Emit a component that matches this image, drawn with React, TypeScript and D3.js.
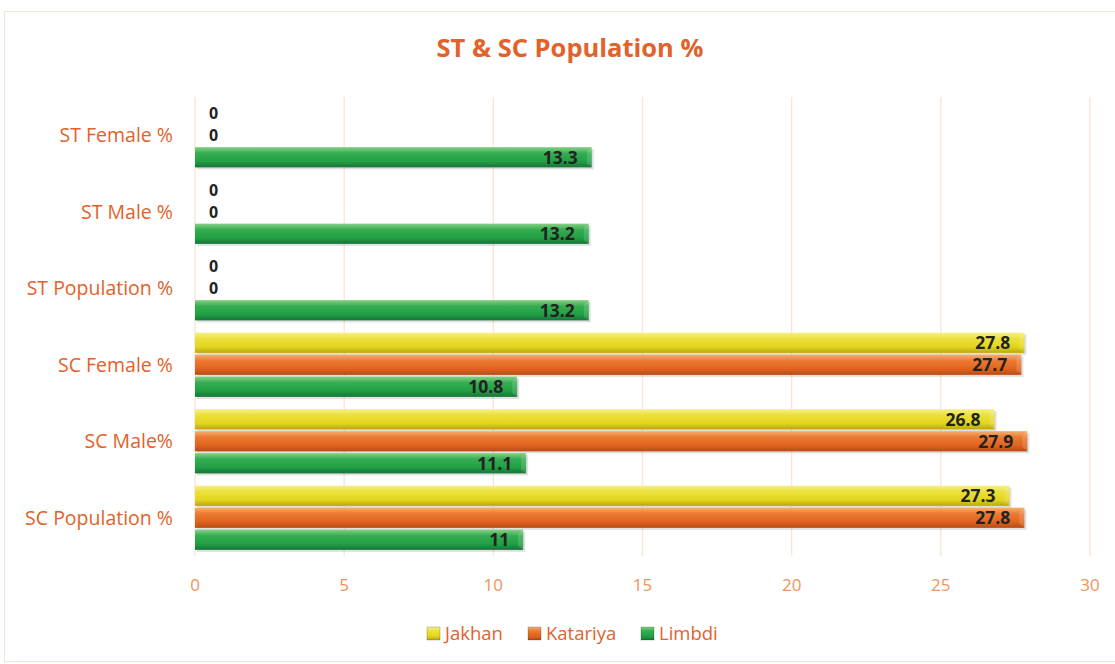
import * as d3 from "d3";
import { useEffect, useRef } from "react";

const categories = [
  "SC Population %",
  "SC Male%",
  "SC Female %",
  "ST Population %",
  "ST Male %",
  "ST Female %",
];
const seriesNames = ["Jakhan", "Katariya", "Limbdi"];
const jakhan = [27.3, 26.8, 27.8, 0, 0, 0];
const katariya = [27.8, 27.9, 27.7, 0, 0, 0];
const limbdi = [11, 11.1, 10.8, 13.2, 13.2, 13.3];
const xTicks = [0, 5, 10, 15, 20, 25, 30];

const W = 1115;
const H = 664;
const ORANGE = "#e2622a";
const gradStops: Record<string, string[]> = {
  Jakhan: ["#f7f08a", "#ebe03a", "#e3d61e", "#b9a80c"],
  Katariya: ["#f6b070", "#ec7a32", "#e0641f", "#b84c14"],
  Limbdi: ["#86d184", "#35ad52", "#22a044", "#17743a"],
};

export default function App() {
  const ref = useRef<SVGSVGElement>(null);

  useEffect(() => {
    const svg = d3.select(ref.current);
    svg.selectAll("*").remove();

    const margin = { top: 97, left: 195, right: 25, bottom: 108 };
    const width = W - margin.left - margin.right;
    const height = H - margin.top - margin.bottom;

    const defs = svg.append("defs");
    seriesNames.forEach((s) => {
      const g = defs
        .append("linearGradient")
        .attr("id", `grad-${s}`)
        .attr("x1", 0)
        .attr("y1", 0)
        .attr("x2", 0)
        .attr("y2", 1);
      const st = gradStops[s];
      [0, 0.3, 0.7, 1].forEach((o, i) =>
        g.append("stop").attr("offset", o).attr("stop-color", st[i])
      );
    });

    // chart border
    svg
      .append("rect")
      .attr("x", 4.5)
      .attr("y", 11.5)
      .attr("width", W + 10)
      .attr("height", H - 14)
      .attr("fill", "#fff")
      .attr("stroke", "#f6e2d8");

    svg
      .append("text")
      .attr("x", 570)
      .attr("y", 57)
      .attr("text-anchor", "middle")
      .attr("font-family", "'Open Sans', sans-serif")
      .attr("font-weight", "bold")
      .attr("font-size", 25.5)
      .attr("fill", ORANGE)
      .text("ST & SC Population %");

    const g = svg
      .append("g")
      .attr("transform", `translate(${margin.left},${margin.top})`);

    const x = d3.scaleLinear().domain([0, 30]).range([0, width]);
    const y = d3
      .scaleBand()
      .domain(categories)
      .range([height, 0]);
    const inner = d3
      .scaleBand()
      .domain(seriesNames)
      .range([0, y.bandwidth() * 0.84])
      .paddingInner(0.08);
    const off = y.bandwidth() * 0.08;

    // gridlines
    g.selectAll("line.grid")
      .data(xTicks)
      .enter()
      .append("line")
      .attr("x1", (d) => x(d))
      .attr("x2", (d) => x(d))
      .attr("y1", 0)
      .attr("y2", height)
      .attr("stroke", "#fbe3d6")
      .attr("stroke-width", 1.3);

    // x tick labels
    g.selectAll("text.xt")
      .data(xTicks)
      .enter()
      .append("text")
      .attr("x", (d) => x(d))
      .attr("y", height + 35)
      .attr("text-anchor", "middle")
      .attr("font-family", "'Open Sans', sans-serif")
      .attr("font-size", 17)
      .attr("fill", "#f0935a")
      .text((d) => d);

    // category labels
    g.selectAll("text.cat")
      .data(categories)
      .enter()
      .append("text")
      .attr("x", -22)
      .attr("y", (d) => (y(d) ?? 0) + y.bandwidth() / 2)
      .attr("dy", "0.35em")
      .attr("text-anchor", "end")
      .attr("font-family", "'Open Sans', sans-serif")
      .attr("font-size", 19.5)
      .attr("fill", ORANGE)
      .text((d) => d);

    const valuesBySeries: Record<string, number[]> = {
      Jakhan: jakhan,
      Katariya: katariya,
      Limbdi: limbdi,
    };

    const rows = categories.flatMap((c, i) =>
      seriesNames.map((s) => ({ cat: c, series: s, value: valuesBySeries[s][i] }))
    );

    const bars = g
      .selectAll("g.bar")
      .data(rows)
      .enter()
      .append("g")
      .attr(
        "transform",
        (d) => `translate(0,${(y(d.cat) ?? 0) + off + (inner(d.series) ?? 0)})`
      );

    const bh = inner.bandwidth();

    bars
      .filter((d) => d.value > 0)
      .append("rect")
      .attr("x", 2)
      .attr("y", 2)
      .attr("width", (d) => x(d.value))
      .attr("height", bh)
      .attr("fill", "#000")
      .attr("opacity", 0.12);

    bars
      .filter((d) => d.value > 0)
      .append("rect")
      .attr("x", 0)
      .attr("y", 0)
      .attr("width", (d) => x(d.value))
      .attr("height", bh)
      .attr("fill", (d) => `url(#grad-${d.series})`);

    // bevel at bar end
    bars
      .filter((d) => d.value > 0)
      .append("path")
      .attr("d", (d) => {
        const e = x(d.value);
        return `M${e},0 L${e - 5},4 L${e - 5},${bh - 4} L${e},${bh} Z`;
      })
      .attr("fill", "#fff")
      .attr("opacity", 0.15);

    bars
      .append("text")
      .attr("x", (d) => (d.value > 0 ? x(d.value) - 14 : 14))
      .attr("y", bh / 2)
      .attr("dy", "0.36em")
      .attr("text-anchor", (d) => (d.value > 0 ? "end" : "start"))
      .attr("font-family", "'Open Sans', sans-serif")
      .attr("font-weight", "bold")
      .attr("font-size", (d) => (d.value > 0 ? 17.5 : 16))
      .attr("fill", "#222")
      .text((d) => d.value);

    // legend
    const legendX = [427, 528, 641];
    const lg = svg
      .selectAll("g.leg")
      .data(seriesNames)
      .enter()
      .append("g")
      .attr("transform", (_, i) => `translate(${legendX[i]},634)`);
    lg.append("rect")
      .attr("x", 0)
      .attr("y", -7)
      .attr("width", 13)
      .attr("height", 13)
      .attr("fill", (d) => `url(#grad-${d})`)
      .attr("stroke", "#00000033");
    lg.append("text")
      .attr("x", 18)
      .attr("y", 0)
      .attr("dy", "0.35em")
      .attr("font-family", "'Open Sans', sans-serif")
      .attr("font-size", 18.5)
      .attr("fill", ORANGE)
      .text((d) => d);
  }, []);

  return (
    <svg
      ref={ref}
      width={W}
      height={H}
      style={{ position: "absolute", left: 0, top: 0, display: "block" }}
    />
  );
}
